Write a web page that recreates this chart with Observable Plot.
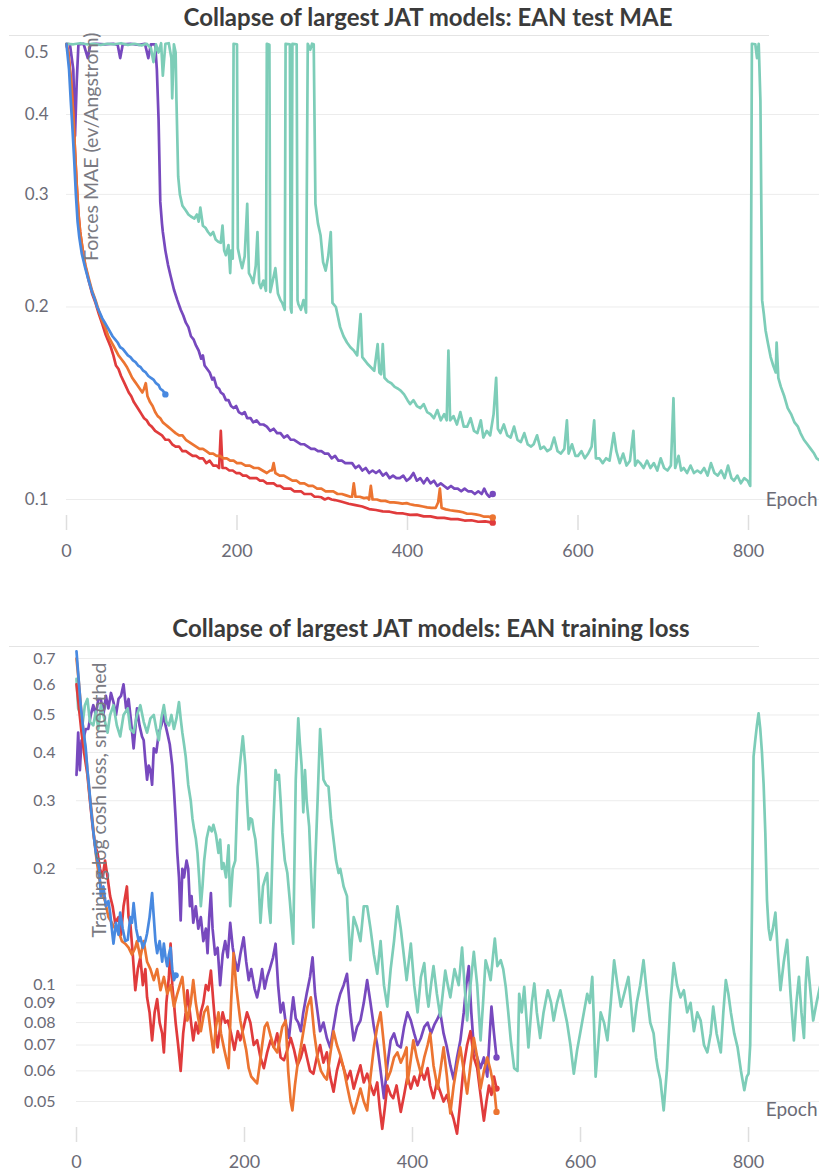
<!DOCTYPE html>
<html><head><meta charset="utf-8">
<script src="https://cdn.jsdelivr.net/npm/d3@7"></script>
<script src="https://cdn.jsdelivr.net/npm/@observablehq/plot@0.6"></script>
<style>
body{margin:0;background:#fff;width:819px;height:1173px;overflow:hidden;position:relative;font-family:Lato,"Noto Sans",sans-serif;}
.title{position:absolute;left:0;text-align:center;font-weight:700;font-size:24px;line-height:24px;color:#3b3b3b;white-space:nowrap;}
.rule{position:absolute;height:1px;background:#e4e4e4;}
.chart{position:absolute;left:0;}
</style></head><body>
<div class="title" style="top:5px;width:856px">Collapse of largest JAT models: EAN test MAE</div>
<div class="rule" style="top:35px;left:9px;width:760px"></div>
<div id="c1" class="chart" style="top:36px"></div>
<div class="title" style="top:616px;width:862px">Collapse of largest JAT models: EAN training loss</div>
<div class="rule" style="top:646px;left:9px;width:750px"></div>
<div id="c2" class="chart" style="top:647px"></div>
<script>
// ---------- tick labels ----------
const epochTicks = [0, 200, 400, 600, 800];
const maeTicks = [0.1, 0.2, 0.3, 0.4, 0.5];
const lossTicks = [0.05, 0.06, 0.07, 0.08, 0.09, 0.1, 0.2, 0.3, 0.4, 0.5, 0.6, 0.7];
const maeTitle = "Forces MAE (ev/Angstrom)";
const lossTitle = "Training log cosh loss, smoothed";

// ---------- series colours ----------
const colTeal = "#7dcdb8", colPurple = "#7749be", colBlue = "#4889e0", colRed = "#e03b3c", colOrange = "#ec7431";

// ---------- EAN test MAE: [epoch, value] ----------
const maeTeal = [[0,0.516],[8,0.515],[16,0.517],[24,0.515],[32,0.516],[40,0.514],[48,0.516],[56,0.515],[64,0.517],[72,0.514],[80,0.516],[88,0.513],[94,0.516],[99,0.508],[102,0.483],[105,0.515],[108,0.5],[111,0.517],[113,0.46],[116,0.516],[120,0.517],[123,0.49],[124,0.424],[126,0.515],[128,0.5],[129,0.42],[131,0.32],[133,0.3],[136,0.288],[140,0.283],[143,0.279],[146,0.277],[150,0.275],[153,0.279],[155,0.272],[157,0.286],[160,0.268],[163,0.266],[166,0.262],[169,0.259],[172,0.262],[175,0.255],[178,0.253],[181,0.252],[183,0.268],[185,0.245],[187,0.241],[190,0.25],[192,0.226],[193,0.245],[195,0.238],[196,0.516],[200,0.515],[201,0.247],[204,0.236],[206,0.23],[209,0.24],[212,0.29],[214,0.226],[217,0.222],[219,0.218],[222,0.232],[224,0.262],[226,0.218],[228,0.214],[231,0.22],[234,0.212],[235,0.516],[238,0.514],[239,0.211],[242,0.22],[245,0.23],[248,0.21],[251,0.205],[253,0.203],[256,0.198],[257,0.516],[262,0.515],[263,0.199],[264,0.196],[265,0.516],[270,0.515],[271,0.205],[272,0.202],[275,0.198],[278,0.205],[281,0.196],[283,0.516],[286,0.505],[288,0.516],[290,0.515],[292,0.29],[295,0.27],[298,0.259],[301,0.235],[304,0.228],[307,0.24],[310,0.262],[312,0.203],[316,0.2],[321,0.186],[325,0.18],[329,0.176],[333,0.173],[337,0.171],[341,0.168],[345,0.195],[347,0.167],[350,0.165],[353,0.163],[357,0.161],[361,0.159],[365,0.175],[367,0.158],[369,0.157],[371,0.175],[373,0.155],[377,0.153],[381,0.152],[385,0.15],[389,0.149],[392,0.148],[396,0.146],[400,0.143],[403,0.141],[407,0.143],[411,0.14],[415,0.139],[419,0.141],[423,0.137],[427,0.136],[431,0.134],[435,0.138],[439,0.133],[443,0.136],[446,0.133],[448,0.171],[450,0.133],[454,0.135],[458,0.131],[462,0.137],[466,0.13],[470,0.13],[474,0.134],[478,0.128],[482,0.127],[486,0.133],[489,0.125],[493,0.128],[497,0.126],[501,0.136],[504,0.155],[506,0.129],[509,0.127],[513,0.131],[517,0.126],[521,0.125],[525,0.13],[529,0.124],[533,0.123],[537,0.127],[541,0.122],[545,0.121],[548,0.122],[552,0.126],[556,0.12],[560,0.121],[564,0.119],[568,0.12],[572,0.125],[576,0.119],[580,0.118],[584,0.12],[587,0.133],[589,0.118],[593,0.122],[597,0.117],[600,0.117],[604,0.119],[608,0.116],[612,0.118],[616,0.121],[619,0.133],[621,0.116],[625,0.116],[629,0.114],[633,0.116],[637,0.115],[640,0.122],[642,0.127],[645,0.119],[649,0.114],[653,0.118],[657,0.113],[661,0.115],[665,0.128],[667,0.113],[670,0.115],[673,0.114],[677,0.112],[681,0.115],[685,0.112],[689,0.114],[693,0.111],[697,0.116],[701,0.112],[705,0.111],[709,0.113],[712,0.144],[714,0.112],[718,0.117],[721,0.111],[724,0.112],[728,0.11],[732,0.113],[736,0.11],[740,0.111],[744,0.11],[748,0.112],[752,0.109],[756,0.114],[760,0.11],[764,0.109],[768,0.111],[772,0.108],[776,0.113],[780,0.108],[783,0.107],[787,0.109],[791,0.106],[795,0.108],[799,0.107],[802,0.105],[804,0.516],[808,0.515],[810,0.49],[812,0.516],[814,0.42],[816,0.205],[818,0.195],[820,0.184],[823,0.175],[826,0.167],[829,0.162],[832,0.158],[833,0.176],[835,0.155],[838,0.15],[842,0.145],[846,0.139],[850,0.136],[854,0.132],[858,0.13],[861,0.127],[865,0.124],[869,0.122],[873,0.12],[877,0.118],[880,0.116],[884,0.115]];
const maePurple = [[0,0.516],[4,0.515],[8,0.47],[10,0.37],[12,0.45],[14,0.515],[20,0.516],[25,0.49],[28,0.515],[35,0.516],[45,0.515],[55,0.516],[60,0.514],[63,0.49],[66,0.515],[75,0.516],[85,0.514],[92,0.516],[96,0.49],[99,0.515],[104,0.515],[106,0.47],[108,0.393],[110,0.292],[112,0.27],[113,0.262],[116,0.245],[119,0.233],[122,0.224],[126,0.213],[130,0.205],[134,0.198],[137,0.194],[140,0.189],[143,0.186],[146,0.18],[149,0.178],[152,0.174],[155,0.171],[158,0.166],[160,0.168],[162,0.162],[165,0.16],[168,0.158],[171,0.154],[173,0.155],[176,0.15],[179,0.149],[181,0.147],[184,0.146],[187,0.143],[190,0.143],[193,0.14],[196,0.139],[199,0.14],[202,0.137],[206,0.136],[209,0.137],[212,0.134],[216,0.134],[219,0.132],[223,0.133],[227,0.131],[231,0.131],[235,0.13],[239,0.128],[243,0.129],[247,0.127],[251,0.127],[255,0.125],[259,0.126],[263,0.124],[267,0.124],[271,0.123],[275,0.122],[279,0.122],[283,0.121],[287,0.12],[291,0.12],[295,0.119],[299,0.119],[303,0.118],[307,0.118],[311,0.116],[315,0.117],[319,0.115],[323,0.115],[327,0.114],[331,0.114],[335,0.114],[339,0.112],[343,0.113],[347,0.111],[351,0.112],[355,0.11],[359,0.111],[363,0.11],[367,0.111],[371,0.109],[375,0.11],[379,0.108],[383,0.109],[387,0.108],[391,0.108],[395,0.109],[399,0.107],[403,0.108],[407,0.11],[411,0.107],[415,0.108],[419,0.106],[423,0.108],[427,0.106],[431,0.107],[435,0.105],[439,0.106],[443,0.105],[447,0.104],[451,0.105],[455,0.104],[459,0.104],[463,0.103],[467,0.104],[471,0.103],[475,0.103],[479,0.102],[483,0.103],[487,0.102],[490,0.104],[493,0.102],[496,0.101],[500,0.102]];
const maeRed = [[0,0.515],[2,0.5],[4,0.47],[6,0.44],[8,0.4],[10,0.35],[12,0.31],[14,0.28],[16,0.262],[19,0.245],[22,0.232],[26,0.22],[30,0.21],[34,0.203],[38,0.195],[42,0.188],[46,0.181],[49,0.177],[52,0.173],[55,0.168],[58,0.162],[61,0.16],[64,0.156],[67,0.153],[70,0.15],[73,0.147],[76,0.145],[79,0.142],[82,0.14],[85,0.138],[88,0.136],[91,0.134],[94,0.133],[97,0.131],[100,0.13],[104,0.128],[108,0.127],[112,0.126],[116,0.124],[120,0.124],[124,0.122],[128,0.121],[132,0.121],[136,0.119],[140,0.119],[144,0.118],[148,0.117],[152,0.117],[156,0.116],[160,0.116],[164,0.114],[168,0.115],[172,0.113],[176,0.113],[179,0.112],[181,0.128],[183,0.112],[187,0.112],[191,0.111],[195,0.111],[199,0.11],[203,0.11],[207,0.109],[211,0.109],[215,0.108],[219,0.108],[223,0.108],[227,0.107],[231,0.107],[235,0.106],[239,0.106],[243,0.106],[247,0.105],[251,0.105],[255,0.104],[259,0.104],[263,0.104],[267,0.103],[271,0.103],[275,0.103],[279,0.102],[283,0.102],[287,0.102],[291,0.101],[295,0.101],[299,0.1008],[303,0.1],[307,0.1005],[311,0.1],[315,0.0998],[323,0.0992],[331,0.0985],[339,0.098],[347,0.0975],[355,0.0966],[363,0.0963],[371,0.0958],[379,0.0957],[387,0.0952],[395,0.0951],[403,0.0946],[411,0.0947],[419,0.0941],[427,0.0941],[435,0.0936],[443,0.0936],[451,0.0932],[459,0.0932],[467,0.0927],[475,0.0928],[483,0.0923],[491,0.0924],[500,0.092]];
const maeOrange = [[0,0.515],[2,0.5],[4,0.47],[6,0.44],[8,0.4],[10,0.35],[12,0.31],[14,0.28],[16,0.262],[19,0.246],[22,0.233],[26,0.222],[30,0.212],[34,0.205],[38,0.197],[42,0.19],[46,0.185],[49,0.18],[52,0.177],[55,0.174],[58,0.171],[61,0.168],[64,0.166],[67,0.164],[71,0.161],[74,0.158],[77,0.155],[80,0.153],[83,0.151],[86,0.149],[89,0.147],[91,0.149],[93,0.152],[95,0.145],[98,0.142],[101,0.14],[104,0.137],[107,0.135],[110,0.134],[113,0.132],[116,0.131],[119,0.13],[122,0.129],[125,0.128],[128,0.127],[132,0.126],[136,0.126],[140,0.124],[144,0.123],[148,0.122],[152,0.121],[156,0.12],[160,0.12],[164,0.119],[168,0.118],[172,0.118],[176,0.117],[180,0.117],[184,0.116],[188,0.116],[192,0.115],[196,0.115],[200,0.114],[205,0.114],[210,0.113],[215,0.113],[220,0.112],[225,0.112],[230,0.111],[235,0.11],[239,0.111],[241,0.111],[243,0.114],[245,0.11],[250,0.109],[255,0.109],[260,0.108],[265,0.107],[270,0.107],[274,0.106],[279,0.106],[284,0.105],[289,0.105],[294,0.104],[299,0.104],[304,0.103],[309,0.103],[313,0.103],[318,0.102],[323,0.102],[328,0.1015],[333,0.101],[335,0.101],[337,0.106],[339,0.101],[344,0.101],[349,0.1005],[353,0.1007],[355,0.1],[357,0.105],[359,0.1],[364,0.1],[369,0.0995],[374,0.0995],[379,0.099],[384,0.099],[389,0.0988],[394,0.0985],[399,0.0987],[403,0.0983],[408,0.098],[413,0.0978],[418,0.0975],[423,0.0972],[428,0.097],[433,0.097],[436,0.099],[438,0.104],[440,0.097],[445,0.0965],[450,0.0962],[455,0.096],[460,0.0958],[465,0.0955],[470,0.095],[475,0.095],[480,0.0948],[485,0.0945],[490,0.094],[495,0.094],[500,0.0937]];
const maeBlue = [[0,0.515],[1,0.5],[3,0.47],[5,0.42],[7,0.38],[9,0.34],[11,0.3],[13,0.272],[15,0.257],[18,0.242],[22,0.23],[26,0.22],[30,0.211],[33,0.206],[36,0.2],[39,0.196],[42,0.192],[45,0.189],[48,0.186],[51,0.183],[54,0.18],[57,0.178],[60,0.176],[63,0.173],[66,0.172],[69,0.17],[72,0.168],[75,0.167],[78,0.165],[81,0.164],[84,0.162],[87,0.161],[90,0.159],[93,0.158],[96,0.156],[99,0.155],[102,0.154],[105,0.152],[108,0.151],[110,0.149],[113,0.148],[116,0.146]];

// ---------- EAN training loss: [epoch, value] ----------
const lossTeal = [[0,0.62],[2,0.52],[5,0.5],[7,0.47],[10,0.53],[13,0.55],[16,0.48],[20,0.47],[23,0.51],[26,0.46],[29,0.53],[33,0.49],[37,0.45],[40,0.5],[44,0.53],[48,0.47],[52,0.44],[56,0.5],[61,0.52],[64,0.46],[68,0.45],[72,0.5],[76,0.53],[80,0.48],[84,0.45],[88,0.49],[92,0.5],[95,0.46],[98,0.43],[101,0.49],[104,0.53],[107,0.48],[110,0.47],[113,0.5],[116,0.46],[119,0.49],[122,0.54],[124,0.49],[126,0.45],[128,0.42],[130,0.39],[133,0.33],[136,0.3],[138,0.27],[140,0.253],[142,0.24],[144,0.22],[146,0.19],[148,0.16],[150,0.18],[152,0.21],[155,0.24],[158,0.257],[161,0.25],[163,0.26],[166,0.245],[169,0.22],[171,0.238],[173,0.2],[175,0.207],[178,0.19],[181,0.23],[183,0.16],[186,0.2],[189,0.21],[192,0.326],[195,0.38],[198,0.44],[201,0.37],[203,0.3],[205,0.253],[207,0.27],[209,0.268],[211,0.25],[213,0.238],[216,0.2],[219,0.145],[222,0.18],[225,0.19],[227,0.195],[229,0.16],[231,0.145],[234,0.25],[237,0.36],[239,0.34],[241,0.35],[243,0.3],[245,0.248],[248,0.21],[251,0.195],[254,0.165],[258,0.128],[261,0.34],[264,0.49],[266,0.42],[268,0.37],[270,0.28],[272,0.36],[274,0.3],[277,0.257],[279,0.2],[282,0.141],[284,0.2],[287,0.3],[290,0.46],[292,0.4],[294,0.34],[297,0.33],[300,0.326],[303,0.27],[306,0.238],[309,0.21],[312,0.195],[314,0.2],[318,0.18],[322,0.17],[326,0.116],[330,0.15],[334,0.141],[338,0.13],[342,0.16],[346,0.16],[350,0.14],[354,0.12],[358,0.107],[362,0.13],[366,0.1],[370,0.088],[374,0.11],[378,0.13],[382,0.16],[386,0.14],[389,0.123],[393,0.103],[398,0.128],[402,0.1],[406,0.085],[410,0.105],[414,0.114],[417,0.095],[419,0.088],[422,0.1],[425,0.112],[429,0.095],[433,0.083],[436,0.095],[439,0.109],[442,0.1],[445,0.093],[450,0.11],[455,0.1],[459,0.125],[462,0.1],[465,0.081],[469,0.1],[473,0.122],[477,0.1],[481,0.072],[484,0.09],[487,0.116],[490,0.11],[493,0.103],[496,0.12],[498,0.132],[501,0.112],[505,0.116],[508,0.11],[511,0.099],[514,0.085],[517,0.072],[521,0.061],[525,0.06],[527,0.095],[530,0.085],[533,0.099],[536,0.08],[538,0.069],[542,0.09],[545,0.101],[548,0.085],[552,0.073],[556,0.085],[561,0.097],[565,0.09],[568,0.081],[572,0.09],[576,0.097],[580,0.088],[584,0.08],[588,0.07],[592,0.059],[596,0.068],[600,0.076],[604,0.085],[608,0.095],[611,0.09],[614,0.105],[616,0.08],[618,0.058],[621,0.07],[624,0.085],[628,0.08],[632,0.072],[636,0.09],[640,0.116],[644,0.1],[648,0.088],[652,0.095],[657,0.105],[660,0.09],[663,0.076],[667,0.09],[671,0.1],[675,0.116],[679,0.095],[683,0.08],[687,0.075],[690,0.065],[692,0.061],[695,0.057],[699,0.0474],[703,0.061],[707,0.09],[711,0.114],[715,0.1],[719,0.093],[723,0.097],[727,0.085],[731,0.09],[735,0.076],[739,0.085],[743,0.081],[747,0.07],[751,0.067],[755,0.075],[758,0.088],[762,0.075],[767,0.067],[770,0.085],[773,0.103],[776,0.095],[779,0.085],[783,0.075],[787,0.069],[791,0.06],[795,0.0535],[798,0.058],[800,0.059],[802,0.07],[804,0.15],[806,0.39],[808,0.43],[810,0.47],[812,0.505],[814,0.46],[816,0.4],[818,0.33],[820,0.248],[822,0.166],[824,0.14],[826,0.131],[829,0.14],[832,0.154],[835,0.12],[838,0.097],[842,0.115],[846,0.131],[850,0.095],[854,0.072],[857,0.09],[860,0.105],[863,0.085],[866,0.073],[868,0.1],[870,0.118],[874,0.095],[877,0.081],[881,0.09],[885,0.099]];
const lossPurple = [[0,0.35],[2,0.45],[4,0.36],[6,0.43],[8,0.43],[11,0.46],[14,0.46],[17,0.5],[20,0.53],[23,0.5],[26,0.55],[29,0.55],[32,0.5],[35,0.56],[38,0.52],[41,0.57],[44,0.54],[47,0.5],[50,0.55],[53,0.56],[56,0.6],[59,0.52],[62,0.55],[65,0.48],[68,0.41],[70,0.46],[72,0.52],[75,0.47],[78,0.44],[80,0.43],[82,0.38],[84,0.34],[86,0.37],[88,0.36],[90,0.33],[92,0.41],[95,0.4],[98,0.45],[101,0.47],[104,0.5],[106,0.47],[108,0.45],[111,0.42],[114,0.37],[116,0.32],[118,0.27],[120,0.22],[122,0.19],[124,0.147],[126,0.2],[128,0.19],[131,0.21],[133,0.2],[135,0.16],[137,0.17],[139,0.145],[142,0.16],[145,0.14],[148,0.15],[151,0.13],[154,0.14],[156,0.121],[158,0.15],[160,0.173],[162,0.14],[165,0.12],[168,0.125],[171,0.1],[174,0.12],[177,0.13],[180,0.118],[183,0.145],[186,0.125],[189,0.115],[192,0.109],[195,0.12],[199,0.133],[202,0.115],[205,0.103],[208,0.11],[212,0.098],[215,0.093],[218,0.1],[221,0.11],[224,0.098],[227,0.105],[230,0.11],[234,0.118],[237,0.128],[240,0.1],[243,0.085],[246,0.09],[249,0.08],[253,0.073],[256,0.085],[258,0.093],[261,0.082],[264,0.08],[267,0.076],[270,0.085],[274,0.095],[278,0.105],[281,0.118],[284,0.095],[287,0.085],[290,0.076],[294,0.08],[298,0.073],[302,0.069],[306,0.078],[310,0.088],[314,0.095],[318,0.1],[322,0.107],[326,0.085],[330,0.072],[334,0.078],[338,0.081],[342,0.09],[346,0.103],[350,0.09],[354,0.078],[358,0.07],[362,0.06],[366,0.051],[370,0.062],[374,0.072],[378,0.075],[382,0.07],[386,0.069],[390,0.078],[394,0.085],[398,0.081],[402,0.075],[406,0.07],[410,0.073],[414,0.078],[418,0.08],[422,0.075],[426,0.079],[430,0.082],[433,0.085],[437,0.075],[441,0.069],[445,0.062],[449,0.057],[453,0.065],[457,0.072],[461,0.085],[464,0.1],[467,0.112],[470,0.085],[473,0.069],[477,0.065],[481,0.061],[485,0.065],[489,0.058],[492,0.075],[494,0.088],[497,0.075],[500,0.065]];
const lossRed = [[0,0.6],[3,0.52],[6,0.45],[9,0.4],[13,0.35],[16,0.3],[19,0.26],[22,0.23],[25,0.22],[28,0.2],[31,0.19],[34,0.21],[37,0.19],[40,0.17],[43,0.16],[46,0.145],[50,0.15],[53,0.135],[56,0.16],[60,0.18],[62,0.15],[64,0.145],[67,0.12],[70,0.097],[73,0.11],[76,0.118],[79,0.1],[82,0.11],[84,0.093],[87,0.085],[90,0.072],[93,0.085],[96,0.092],[99,0.08],[102,0.075],[104,0.067],[107,0.09],[110,0.105],[112,0.128],[114,0.1],[116,0.09],[118,0.08],[121,0.07],[124,0.06],[127,0.075],[130,0.085],[132,0.097],[135,0.085],[137,0.078],[139,0.072],[142,0.08],[145,0.075],[148,0.085],[151,0.09],[154,0.1],[157,0.097],[160,0.109],[163,0.09],[166,0.075],[168,0.069],[171,0.078],[174,0.085],[177,0.08],[180,0.081],[184,0.075],[188,0.068],[192,0.076],[195,0.072],[199,0.078],[203,0.085],[207,0.08],[211,0.07],[215,0.072],[219,0.065],[223,0.061],[227,0.067],[231,0.072],[235,0.069],[239,0.075],[243,0.065],[247,0.064],[251,0.068],[255,0.073],[259,0.068],[263,0.062],[267,0.065],[271,0.07],[275,0.064],[278,0.06],[282,0.059],[286,0.065],[290,0.07],[294,0.063],[298,0.067],[302,0.058],[306,0.053],[310,0.06],[314,0.065],[318,0.061],[322,0.057],[326,0.06],[330,0.054],[334,0.058],[338,0.062],[342,0.056],[346,0.059],[350,0.055],[354,0.052],[358,0.056],[361,0.048],[364,0.0425],[367,0.048],[370,0.055],[374,0.052],[377,0.051],[381,0.055],[384,0.05],[386,0.047],[390,0.052],[394,0.058],[398,0.054],[402,0.058],[406,0.055],[410,0.06],[414,0.057],[418,0.061],[421,0.055],[425,0.051],[429,0.056],[433,0.053],[437,0.05],[441,0.052],[445,0.048],[449,0.045],[453,0.0413],[457,0.05],[461,0.062],[465,0.07],[469,0.076],[473,0.065],[477,0.061],[481,0.052],[485,0.0446],[488,0.05],[491,0.055],[494,0.052],[497,0.058],[500,0.054]];
const lossOrange = [[0,0.7],[3,0.6],[6,0.5],[9,0.44],[12,0.38],[15,0.32],[18,0.28],[21,0.24],[24,0.21],[27,0.19],[30,0.175],[34,0.165],[38,0.15],[42,0.145],[46,0.14],[50,0.138],[54,0.13],[58,0.128],[62,0.125],[66,0.12],[70,0.125],[72,0.13],[76,0.118],[80,0.13],[84,0.115],[88,0.11],[92,0.103],[96,0.11],[100,0.097],[104,0.105],[108,0.095],[112,0.1],[116,0.088],[120,0.095],[123,0.1],[126,0.105],[129,0.09],[132,0.081],[136,0.09],[139,0.103],[142,0.09],[145,0.082],[148,0.076],[152,0.085],[156,0.088],[160,0.075],[163,0.067],[166,0.078],[169,0.085],[172,0.075],[176,0.068],[178,0.065],[181,0.061],[184,0.09],[187,0.121],[190,0.1],[193,0.088],[195,0.081],[198,0.075],[202,0.068],[205,0.061],[208,0.058],[211,0.057],[215,0.0557],[218,0.062],[221,0.07],[224,0.078],[227,0.08],[231,0.074],[235,0.069],[239,0.067],[242,0.072],[245,0.078],[249,0.081],[252,0.06],[255,0.05],[257,0.0474],[260,0.055],[263,0.062],[267,0.069],[271,0.078],[275,0.088],[279,0.093],[283,0.075],[287,0.065],[291,0.06],[295,0.058],[298,0.057],[302,0.066],[306,0.076],[310,0.07],[314,0.066],[318,0.061],[322,0.055],[326,0.05],[330,0.0466],[334,0.05],[338,0.054],[342,0.05],[346,0.0474],[350,0.058],[354,0.069],[358,0.078],[362,0.085],[366,0.07],[370,0.057],[374,0.06],[378,0.065],[382,0.067],[386,0.063],[390,0.066],[393,0.069],[394,0.0557],[397,0.062],[401,0.072],[405,0.065],[410,0.059],[414,0.065],[418,0.07],[421,0.075],[425,0.062],[430,0.054],[434,0.062],[437,0.069],[441,0.058],[445,0.0466],[449,0.055],[453,0.062],[457,0.069],[461,0.06],[465,0.0524],[469,0.062],[473,0.073],[477,0.065],[481,0.054],[485,0.06],[489,0.065],[493,0.06],[495,0.057],[498,0.052],[500,0.047]];
const lossBlue = [[0,0.73],[3,0.6],[5,0.53],[8,0.46],[11,0.41],[13,0.36],[15,0.326],[17,0.29],[20,0.25],[23,0.22],[27,0.2],[29,0.17],[32,0.18],[35,0.16],[38,0.165],[40,0.154],[42,0.14],[44,0.128],[47,0.145],[50,0.135],[52,0.154],[55,0.14],[58,0.13],[61,0.131],[64,0.15],[66,0.145],[68,0.163],[71,0.14],[74,0.13],[76,0.133],[79,0.125],[82,0.13],[84,0.136],[87,0.15],[90,0.173],[92,0.15],[94,0.13],[96,0.121],[99,0.13],[102,0.115],[104,0.128],[106,0.118],[108,0.112],[110,0.12],[112,0.125],[114,0.11],[116,0.103],[118,0.106]];

// ---------- helpers ----------
const labelGrey = "#6b6b76";
function seriesMarks(data, color, endDot) {
  const m = [Plot.line(data, {x: d => d[0], y: d => d[1], stroke: color, strokeWidth: 2.7, strokeLinejoin: "round", strokeLinecap: "round"})];
  if (endDot) m.push(Plot.dot([data[data.length - 1]], {x: d => d[0], y: d => d[1], fill: color, r: 3.2}));
  return m;
}
function chart(cfg) {
  return Plot.plot({
    width: 819, height: cfg.height,
    marginLeft: cfg.marginLeft, marginRight: 0, marginTop: 0, marginBottom: cfg.marginBottom,
    style: {fontFamily: "Lato, 'Noto Sans', sans-serif", fontSize: "17px", background: "transparent", overflow: "visible"},
    x: {domain: cfg.xDomain},
    y: {type: "log", domain: cfg.yDomain, range: cfg.yRange},
    marks: [
      Plot.gridY(cfg.yTicks, {stroke: "#ececec", strokeOpacity: 1, strokeWidth: 1}),
      Plot.axisY(cfg.yTicks, {tickSize: 0, tickPadding: cfg.yPad, fill: labelGrey, label: null, tickFormat: d => String(d), fontSize: cfg.yFont}),
      Plot.axisX(epochTicks, {tickSize: 15, tickPadding: cfg.xPad, stroke: "#dedede", strokeWidth: 1.5, fill: labelGrey, label: null, tickFormat: d => String(d), fontSize: 18}),
      ...cfg.series.flatMap(s => seriesMarks(s[0], s[1], s[2])),
      Plot.text(["Epoch"], {frameAnchor: "bottom-right", textAnchor: "end", dx: -2, dy: cfg.epochDy, fill: labelGrey, fontSize: 19}),
      Plot.text([cfg.yLabel], {frameAnchor: "top-left", rotate: -90, textAnchor: "end", dx: cfg.yLabDx, dy: cfg.yLabDy, fill: "#7a7a82", fontSize: 19.5})
    ]
  });
}

document.getElementById("c1").append(chart({
  height: 530, marginLeft: 66, marginBottom: 51,
  xDomain: [0, 883.3], yDomain: [0.1, 0.5], yRange: [463, 16], yTicks: maeTicks, yFont: 17,
  yPad: 18, xPad: 14, epochDy: -10, yLabel: maeTitle, yLabDx: 18, yLabDy: -4,
  series: [[maePurple, colPurple, true], [maeTeal, colTeal, false], [maeRed, colRed, true], [maeOrange, colOrange, true], [maeBlue, colBlue, true]]
}));

document.getElementById("c2").append(chart({
  height: 526, marginLeft: 76, marginBottom: 46,
  xDomain: [0, 884.5], yDomain: [0.05, 0.7], yRange: [454, 11], yTicks: lossTicks, yFont: 16,
  yPad: 21, xPad: 13, epochDy: -12, yLabel: lossTitle, yLabDx: 16, yLabDy: 15,
  series: [[lossPurple, colPurple, true], [lossTeal, colTeal, false], [lossRed, colRed, true], [lossOrange, colOrange, true], [lossBlue, colBlue, true]]
}));
</script>
</body></html>
